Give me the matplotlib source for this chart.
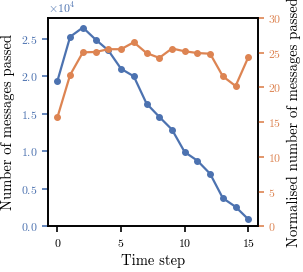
import matplotlib
matplotlib.use("Agg")
import matplotlib.pyplot as plt

plt.rcParams['font.family'] = 'cmr10'
plt.rcParams['mathtext.fontset'] = 'cm'
plt.rcParams['axes.formatter.use_mathtext'] = True
plt.rcParams['axes.unicode_minus'] = False

steps = list(range(16))
messages = [19380, 25270, 26500, 24900, 23450, 21000, 20000, 16370,
            14600, 12900, 9900, 8750, 7000, 3750, 2600, 940]
normalised = [15.7, 21.8, 25.05, 25.1, 25.5, 25.5, 26.5, 24.95,
              24.25, 25.6, 25.2, 24.95, 24.85, 21.6, 20.2, 24.35]

blue = '#4C72B0'
orange = '#DD8452'

fig, ax = plt.subplots(figsize=(3.03, 2.72), dpi=100)
ax.plot(steps, messages, marker='o', markersize=4, color=blue, linewidth=1.6)
ax.set_ylim(bottom=0)
ax.ticklabel_format(axis='y', style='sci', scilimits=(0, 0))
ax.set_xlabel('Time step', fontsize=10.5)
ax.set_ylabel('Number of messages passed', fontsize=10.5)
ax.tick_params(axis='y', colors=blue, labelsize=8.5, length=4, width=1.2)
ax.tick_params(axis='x', labelsize=8.5, length=4, width=1.2)
ax.yaxis.get_offset_text().set_color(blue)
ax.yaxis.get_offset_text().set_fontsize(8.5)
ax.set_xticks([0, 5, 10, 15])

ax2 = ax.twinx()
ax2.plot(steps, normalised, marker='o', markersize=4, color=orange, linewidth=1.6)
ax2.set_ylim(0, 30)
ax2.set_ylabel('Normalised number of messages passed', fontsize=10.5)
ax2.tick_params(axis='y', colors=orange, labelsize=8.5, length=4, width=1.2)

for a in (ax, ax2):
    for s in a.spines.values():
        s.set_linewidth(1.2)

fig.subplots_adjust(left=0.158, right=0.851, top=0.934, bottom=0.168)
fig.savefig('out.png', dpi=100)
